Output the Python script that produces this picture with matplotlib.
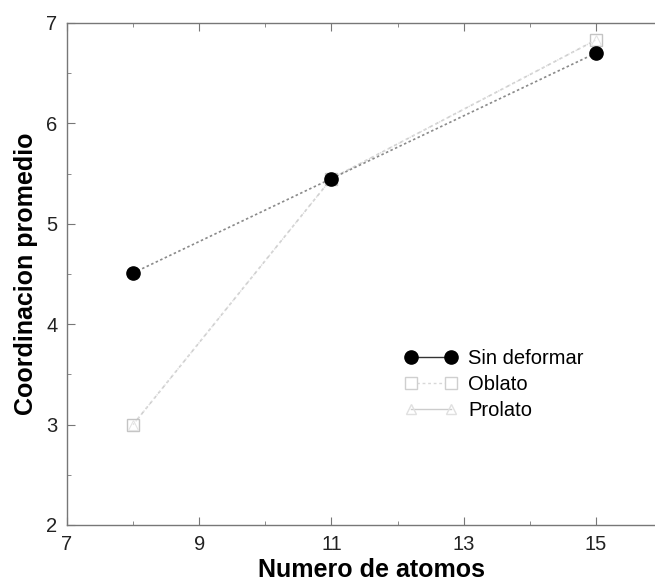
import numpy as np
import matplotlib.pyplot as plt
from matplotlib.ticker import MultipleLocator
from matplotlib.lines import Line2D

plt.rcParams["font.family"] = ["Liberation Sans", "DejaVu Sans"]

# data
atomos = [8, 11, 15]
sin_deformar = [4.51, 5.45, 6.70]
oblato = [3.0, 5.45, 6.83]
prolato = [3.0, 5.45, 6.83]

fig = plt.figure(figsize=(6.55, 5.82), dpi=100)
# right side of the frame is cut off in the scanned original
ax = fig.add_axes([0.1023, 0.098, 0.93, 0.8625])

ax.plot(atomos, oblato, linestyle=(0, (2, 2)), color='#cfcfcf', lw=1.2,
        marker='s', ms=8.5, mfc='white', mec='#c4c4c4', mew=1.0)
ax.plot(atomos, prolato, linestyle=(0, (1, 2)), color='#dddddd', lw=1.0,
        marker='^', ms=7, mfc='none', mec='#e4e4e4', mew=0.8)
ax.plot(atomos, sin_deformar, linestyle=(0, (1.5, 1.5)), color='#8a8a8a', lw=1.2,
        marker='o', ms=9.5, mfc='black', mec='black')

ax.set_xlim(7, 7 + 0.93 * 655 / 66.1)
ax.set_ylim(2, 7)
ax.set_xticks([7, 9, 11, 13, 15])
ax.set_yticks([2, 3, 4, 5, 6, 7])
ax.xaxis.set_minor_locator(MultipleLocator(1))
ax.yaxis.set_minor_locator(MultipleLocator(0.5))
ax.tick_params(which='both', direction='in', top=True, right=False, color='#777777')
ax.tick_params(which='major', length=6, labelsize=14.5, pad=7, labelcolor='#222222')
ax.tick_params(which='minor', length=3)
for s in ax.spines.values():
    s.set_color('#777777')
    s.set_linewidth(1.0)
ax.spines['right'].set_visible(False)

ax.set_xlabel('Numero de atomos', fontsize=18, fontweight='bold', labelpad=3)
ax.set_ylabel('Coordinacion promedio', fontsize=18, fontweight='bold', labelpad=6)

# legend key drawn like the original: markers at both ends of the handle
handles = [
    Line2D([], [], color='#333333', lw=1.0, marker='o', ms=9.5, mfc='black', mec='black'),
    Line2D([], [], color='#d8d8d8', lw=1.0, linestyle=(0, (2, 2)), marker='s', ms=8,
           mfc='white', mec='#cfcfcf'),
    Line2D([], [], color='#cccccc', lw=1.0, linestyle='-', marker='^', ms=7,
           mfc='none', mec='#e0e0e0'),
]
ax.legend(handles, ['Sin deformar', 'Oblato', 'Prolato'], loc='upper left',
          bbox_to_anchor=((405 - 67) / (0.93 * 655), 0.35), frameon=False, fontsize=14.5,
          numpoints=2, handlelength=2.6, handletextpad=0.55, labelspacing=0.35,
          borderpad=0, borderaxespad=0)

fig.savefig('out.png', dpi=100)
